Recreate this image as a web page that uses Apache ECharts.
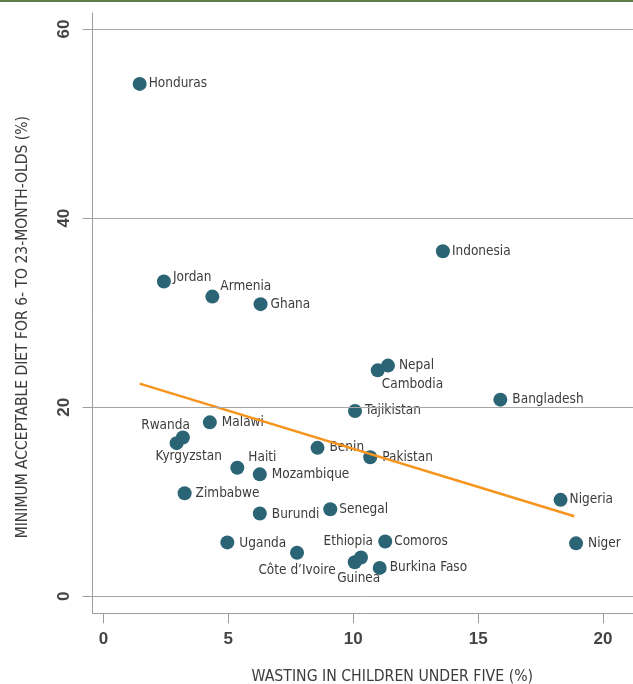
<!DOCTYPE html>
<html>
<head>
<meta charset="utf-8">
<script src="https://cdn.jsdelivr.net/npm/echarts@6/dist/echarts.min.js"></script>
<style>
html,body{margin:0;padding:0;background:#fff;}
#topbar{position:absolute;left:0;top:0;width:633px;height:2px;background:#5b7f47;}
#chart{width:633px;height:684px;}
</style>
</head>
<body>
<div id="chart"></div>
<div id="topbar"></div>
<script>
// Data
const countries = ["Honduras","Jordan","Armenia","Ghana","Indonesia","Cambodia","Nepal","Bangladesh","Tajikistan","Benin","Pakistan","Nigeria","Niger","Senegal","Comoros","Burkina Faso","Guinea","Ethiopia","Côte d’Ivoire","Uganda","Burundi","Zimbabwe","Mozambique","Haiti","Malawi","Kyrgyzstan","Rwanda"];
const wasting = [1.45,2.42,4.36,6.29,13.59,10.98,11.39,15.89,10.07,8.57,10.68,18.30,18.92,9.08,11.28,11.06,10.06,10.31,7.75,4.96,6.26,3.25,6.26,5.36,4.26,2.93,3.18];
const diet =    [54.2,33.3,31.7,30.9,36.5,23.9,24.4,20.8,19.6,15.7,14.7,10.2,5.6,9.2,5.8,3.0,3.6,4.1,4.6,5.7,8.75,10.9,12.9,13.6,18.4,16.2,16.8];
const trendX = [1.45, 18.85];
const trendY = [22.5, 8.47];
const xTicks = [0,5,10,15,20];
const yTicks = [0,20,40,60];

// Label placement (layout only)
const labelLayout = {
  "Honduras":{pos:"right",off:[-3,0]},
  "Jordan":{pos:"right",off:[-3,-4]},
  "Armenia":{pos:"right",off:[-4,-10]},
  "Ghana":{pos:"right",off:[-2,0]},
  "Indonesia":{pos:"right",off:[-3,0]},
  "Nepal":{pos:"right",off:[-1,0]},
  "Cambodia":{pos:"right",off:[-8,14]},
  "Bangladesh":{pos:"right",off:[0,0]},
  "Tajikistan":{pos:"right",off:[-2,0]},
  "Benin":{pos:"right",off:[0,0]},
  "Pakistan":{pos:"right",off:[0,0]},
  "Nigeria":{pos:"right",off:[-3,0]},
  "Niger":{pos:"right",off:[0,0]},
  "Senegal":{pos:"right",off:[-3,0]},
  "Comoros":{pos:"right",off:[-3,0]},
  "Burkina Faso":{pos:"right",off:[-2,0]},
  "Guinea":{pos:"bottom",off:[4,-3]},
  "Ethiopia":{pos:"left",off:[24,-16]},
  "Côte d’Ivoire":{pos:"bottom",off:[0,-1]},
  "Uganda":{pos:"right",off:[0,1]},
  "Burundi":{pos:"right",off:[0,1]},
  "Zimbabwe":{pos:"right",off:[-1,0]},
  "Mozambique":{pos:"right",off:[0,0]},
  "Haiti":{pos:"right",off:[-1,-10]},
  "Malawi":{pos:"right",off:[0,0]},
  "Kyrgyzstan":{pos:"bottom",off:[12,-6]},
  "Rwanda":{pos:"left",off:[19,-12]}
};

const FONT = "'Liberation Sans Narrow','DejaVu Sans Condensed','Liberation Sans',sans-serif";
const pointData = countries.map((c,i)=>{
  const L = labelLayout[c];
  return {
    name:c,
    value:[wasting[i],diet[i]],
    label:{show:true,position:L.pos,offset:L.off,distance:5,formatter:c}
  };
});

const chart = echarts.init(document.getElementById('chart'),null,{renderer:'canvas'});
chart.setOption({
  animation:false,
  backgroundColor:'#ffffff',
  grid:{left:92.7,right:0,top:13,bottom:70.7,containLabel:false,outerBoundsMode:'none'},
  xAxis:{
    type:'value',min:-0.43,max:21.2,
    name:'WASTING IN CHILDREN UNDER FIVE (%)',
    nameLocation:'middle',nameGap:56,
    nameTextStyle:{fontFamily:FONT,fontSize:15.7,color:'#3c3c3c',padding:[0,0,0,59]},
    axisLine:{show:true,onZero:false,lineStyle:{color:'#9d9d9d',width:1}},
    axisTick:{show:true,length:10,customValues:xTicks,lineStyle:{color:'#9d9d9d'}},
    axisLabel:{customValues:xTicks,margin:18,fontFamily:"'Liberation Sans',sans-serif",fontWeight:'bold',fontSize:17,color:'#444'},
    splitLine:{show:false}
  },
  yAxis:{
    type:'value',min:-1.8,max:61.7,
    name:'MINIMUM ACCEPTABLE DIET FOR 6- TO 23-MONTH-OLDS (%)',
    nameLocation:'middle',nameGap:62,nameRotate:90,
    nameTextStyle:{fontFamily:FONT,fontSize:15.5,color:'#3c3c3c',padding:[0,28,0,0]},
    axisLine:{show:true,onZero:false,lineStyle:{color:'#9d9d9d',width:1}},
    axisTick:{show:true,length:10,customValues:yTicks,lineStyle:{color:'#9d9d9d'}},
    axisLabel:{customValues:yTicks,rotate:90,margin:20,fontFamily:"'Liberation Sans',sans-serif",fontWeight:'bold',fontSize:17,color:'#444'},
    splitLine:{show:false}
  },
  series:[
    {
      type:'line',data:[],z:1,silent:true,
      markLine:{
        silent:true,symbol:'none',animation:false,
        label:{show:false},
        lineStyle:{color:'#a6a6a6',type:'solid',width:1},
        data:yTicks.map(v=>({yAxis:v}))
      }
    },
    {
      type:'scatter',z:3,
      symbol:'circle',symbolSize:14,
      itemStyle:{color:'#2b6575',opacity:1},
      label:{fontFamily:FONT,fontSize:13.5,color:'#3c3c3c'},
      emphasis:{disabled:true},
      data:pointData
    },
    {
      type:'line',z:4,silent:true,
      symbol:'none',
      lineStyle:{color:'#f7941d',width:2.5},
      data:trendX.map((x,i)=>[x,trendY[i]])
    }
  ]
});
</script>
</body>
</html>
